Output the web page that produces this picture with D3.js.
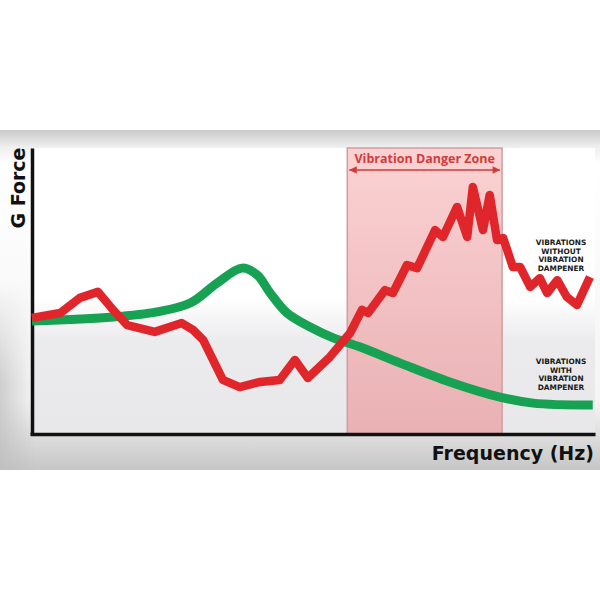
<!DOCTYPE html>
<head>
  <meta charset="utf-8">
  <script src="https://d3js.org/d3.v7.min.js"></script>
  <style>
body { margin: 0; background: white; }
svg { display: block; background-color: white; }
text { font-family: 'Open Sans', 'DejaVu Sans', sans-serif; font-weight: 700; }
  </style>
</head>
<body>
<svg width="600" height="600"></svg>
<script>
// frequency (0-100) and g force (0-100)
var redFreq = [0, 5.0, 8.5, 11.7, 14.4, 16.9, 21.8, 26.6, 28.6, 30.4, 33.9, 36.9, 40.5, 44.0, 46.7, 49.0,
               52.9, 56.5, 58.6, 59.7, 62.7, 64.1, 66.6, 68.4, 71.6, 73.0, 75.5, 77.3, 78.3, 80.1, 81.3,
               82.6, 83.7, 85.4, 86.7, 88.5, 90.2, 91.5, 93.3, 95.0, 96.8, 99.1];
var redForce = [40.6, 42.3, 47.6, 49.7, 43.4, 38.1, 35.7, 38.8, 36.4, 32.9, 18.9, 16.4, 18.2, 18.9, 25.9, 19.6,
                26.9, 35.3, 43.4, 42.3, 50.3, 49.3, 59.1, 58.0, 71.3, 68.9, 79.4, 68.9, 86.4, 71.3, 83.6,
                67.8, 68.5, 58.4, 58.4, 51.4, 54.5, 49.3, 53.8, 47.9, 45.1, 54.9];
var greenFreq = [0, 14.4, 22.2, 28.1, 32.9, 37.3, 40.0, 42.3, 45.3, 49.4, 53.5, 58.3, 65.4, 74.2, 83.1, 89.0, 99.6];
var greenForce = [39.5, 40.9, 42.7, 45.8, 52.8, 58.0, 55.6, 49.3, 42.3, 37.4, 33.6, 30.4, 24.8, 18.2, 12.9, 10.8, 10.1];
var dangerZone = [56.0, 83.5];
var labelWithout = ["VIBRATIONS", "WITHOUT", "VIBRATION", "DAMPENER"];
var labelWith = ["VIBRATIONS", "WITH", "VIBRATION", "DAMPENER"];

var svg = d3.select("svg");
var defs = svg.append("defs");

var x = d3.scaleLinear().domain([0, 100]).range([32, 595]);
var y = d3.scaleLinear().domain([0, 100]).range([434, 148]);

function grad(id, x2, y2, stops) {
  var g = defs.append("linearGradient").attr("id", id)
    .attr("x1", 0).attr("y1", 0).attr("x2", x2).attr("y2", y2);
  stops.forEach(function(s) {
    g.append("stop").attr("offset", s[0]).attr("stop-color", s[1]).attr("stop-opacity", s[2] == null ? 1 : s[2]);
  });
  return g;
}
grad("band", 0, 1, [["0%", "#c9c9c9"], ["5%", "#efefef"], ["10%", "#ffffff"], ["80%", "#f4f4f4"], ["88%", "#e2e2e2"], ["100%", "#c6c6c6"]]);
grad("leftShade", 1, 0, [["0%", "#bdbdbd", 0.7], ["100%", "#bdbdbd", 0]]);
grad("leftFade", 0, 1, [["0%", "#000"], ["45%", "#000"], ["75%", "#fff"], ["100%", "#fff"]]);
grad("plotFill", 0, 1, [["0%", "#ffffff"], ["52%", "#ffffff"], ["68%", "#ebebee"], ["100%", "#e8e8eb"]]);
grad("pink", 0, 1, [["0%", "#fbd2d2"], ["100%", "#e9b1b4"]]);
defs.append("mask").attr("id", "leftMask")
  .append("rect").attr("x", 0).attr("y", 130).attr("width", 40).attr("height", 340).attr("fill", "url(#leftFade)");

// frame band
svg.append("rect").attr("x", 0).attr("y", 130).attr("width", 600).attr("height", 340).attr("fill", "url(#band)");
svg.append("rect").attr("x", 0).attr("y", 130).attr("width", 34).attr("height", 340)
  .attr("fill", "url(#leftShade)").attr("mask", "url(#leftMask)");

// plot background
svg.append("rect").attr("x", x(0)).attr("y", y(100)).attr("width", x(100) - x(0)).attr("height", y(0) - y(100))
  .attr("fill", "url(#plotFill)");

// danger zone
svg.append("rect")
  .attr("x", x(dangerZone[0])).attr("y", y(100))
  .attr("width", x(dangerZone[1]) - x(dangerZone[0])).attr("height", y(0) - y(100))
  .attr("fill", "url(#pink)").attr("stroke", "#cf9ea1").attr("stroke-width", 1.5);

svg.append("text")
  .attr("x", (x(dangerZone[0]) + x(dangerZone[1])) / 2).attr("y", 163)
  .attr("text-anchor", "middle").attr("font-size", 12.5).attr("fill", "#d23b3b")
  .text("Vibration Danger Zone");

defs.append("marker").attr("id", "arrow").attr("viewBox", "0 0 10 10").attr("refX", 10).attr("refY", 5)
  .attr("markerWidth", 6).attr("markerHeight", 5).attr("orient", "auto-start-reverse")
  .append("path").attr("d", "M0,0L10,5L0,10Z").attr("fill", "#d23b3b");
svg.append("line")
  .attr("x1", x(dangerZone[0]) + 2).attr("x2", x(dangerZone[1]) - 2)
  .attr("y1", 170).attr("y2", 170)
  .attr("stroke", "#d23b3b").attr("stroke-width", 1.5)
  .attr("marker-start", "url(#arrow)").attr("marker-end", "url(#arrow)");

// axes (no ticks, just the lines)
svg.append("g").attr("transform", "translate(" + x(0) + ",0)")
  .call(d3.axisLeft(y).ticks(0).tickSizeOuter(0))
  .select(".domain").attr("stroke", "#111").attr("stroke-width", 3.5);
svg.append("g").attr("transform", "translate(0," + y(0) + ")")
  .call(d3.axisBottom(x.copy().range([30, 595])).ticks(0).tickSizeOuter(0))
  .select(".domain").attr("stroke", "#111").attr("stroke-width", 3.5);

// lines
var green = d3.line().x(function(d) { return x(d[0]); }).y(function(d) { return y(d[1]); })
  .curve(d3.curveCatmullRom.alpha(0.5));
var red = d3.line().x(function(d) { return x(d[0]); }).y(function(d) { return y(d[1]); });

svg.append("path").datum(d3.zip(greenFreq, greenForce))
  .attr("d", green).attr("fill", "none").attr("stroke", "#17a152").attr("stroke-width", 9)
  .attr("stroke-linecap", "butt");
svg.append("path").datum(d3.zip(redFreq, redForce))
  .attr("d", red).attr("fill", "none").attr("stroke", "#e1262b").attr("stroke-width", 8.5)
  .attr("stroke-linejoin", "round").attr("stroke-linecap", "butt");

// axis titles
svg.append("text").attr("transform", "translate(25,188) rotate(-90)")
  .attr("text-anchor", "middle").attr("font-size", 19).attr("fill", "#111")
  .style("font-family", "'DejaVu Sans', sans-serif").text("G Force");
svg.append("text").attr("x", 594).attr("y", 460)
  .attr("text-anchor", "end").attr("font-size", 19).attr("fill", "#111")
  .style("font-family", "'DejaVu Sans', sans-serif").text("Frequency (Hz)");

// line labels
function label(lines, y0) {
  svg.append("g").selectAll("text").data(lines).enter().append("text")
    .attr("x", 561).attr("y", function(d, i) { return y0 + i * 8.5; })
    .attr("text-anchor", "middle").attr("font-size", 7.4).attr("fill", "#1a1a1a")
    .style("font-family", "'DejaVu Sans', sans-serif")
    .text(function(d) { return d; });
}
label(labelWithout, 245);
label(labelWith, 364);
</script>
</body>
</html>
